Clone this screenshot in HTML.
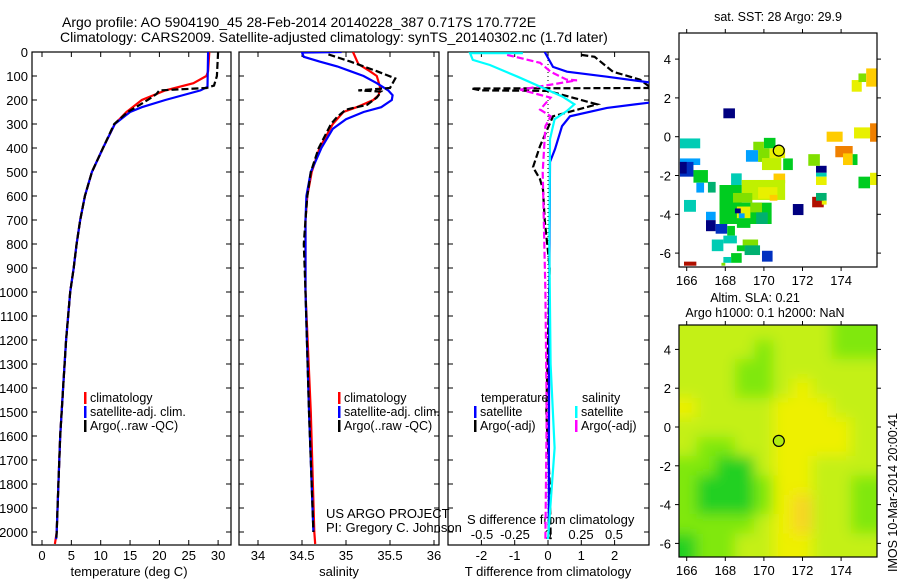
<!DOCTYPE html>
<html><head><meta charset="utf-8"><style>
html,body{margin:0;padding:0;background:#fff;}
svg{display:block;font-family:"Liberation Sans",Arial,sans-serif;}
text{fill:#000;}
</style></head><body>
<svg id="c" width="900" height="580" viewBox="0 0 900 580" xmlns="http://www.w3.org/2000/svg">
<defs>
<clipPath id="cp1"><rect x="32" y="52" width="199" height="493"/></clipPath>
<clipPath id="cp2"><rect x="239" y="52" width="200" height="493"/></clipPath>
<clipPath id="cp3"><rect x="448" y="52" width="201" height="493"/></clipPath>
<clipPath id="cpm1"><rect x="679" y="33" width="198" height="234"/></clipPath>
<clipPath id="cpm2"><rect x="679" y="325" width="198" height="232"/></clipPath>
<filter id="blur" x="-10%" y="-10%" width="120%" height="120%"><feGaussianBlur stdDeviation="7"/></filter>
</defs>
<text x="62" y="27" font-size="14">Argo profile: AO 5904190_45 28-Feb-2014 20140228_387 0.717S 170.772E</text>
<text x="60" y="42" font-size="14">Climatology: CARS2009. Satellite-adjusted climatology: synTS_20140302.nc (1.7d later)</text>
<g id="g"></g>
</svg>
<script>
// ---------- DATA ----------
const depthTicks=[0,100,200,300,400,500,600,700,800,900,1000,1100,1200,1300,1400,1500,1600,1700,1800,1900,2000];
const tTicks=[0,5,10,15,20,25,30];
const sTicks=[34,34.5,35,35.5,36];
const dtTicks=[-2,-1,0,1,2];
const dsTicks=[-0.5,-0.25,0,0.25,0.5];
const dsTickLabels=["-0.5","-0.25","0","0.25","0.5"];

const commonDepth=[400,500,600,700,800,900,1000,1200,1400,1600,1800,2000];
const commonT=[10.4,8.5,7.3,6.5,5.9,5.4,4.8,4.1,3.6,3.1,2.8,2.5];
const climTDepth=[0,80,100,130,160,200,250,300].concat(commonDepth,[2050]);
const climT=[28.5,28.3,28,25.8,21,17,14.4,12.4].concat(commonT,[2.2]);
const satTDepth=[0,145,160,200,230,250,300].concat(commonDepth,[2030]);
const satT=[28.3,28.2,27,21,17,15,12.4].concat(commonT,[2.4]);
const argoTDepth=[0,100,140,150,160,175,200,230,250,300].concat(commonDepth,[2030]);
const argoT=[30,29.8,29.3,28,20,19.5,18,16,14.6,12.3].concat(commonT,[2.45]);

const climSDepth=[0,50,80,100,150,180,200,230,250,300,400,500,600,700,1000,1500,2000,2050];
const climS=[35.08,35.14,35.27,35.35,35.39,35.37,35.31,35.12,34.97,34.85,34.7,34.61,34.56,34.54,34.54,34.6,34.64,34.65];
const satSDepth=[0,2,20,40,60,80,100,130,160,180,200,230,250,280,320,400,500,600,700,1000,1500,2000];
const satS=[34.95,34.5,34.52,34.7,34.9,35.05,35.2,35.35,35.48,35.53,35.52,35.4,35.2,35.0,34.85,34.72,34.6,34.55,34.54,34.54,34.58,34.63];
const argoSDepth=[10,40,80,110,150,160,165,190,220,240,270,300,400,500,600,700,800,1000,1500,1700,2000];
const argoS=[34.8,35.05,35.35,35.56,35.5,35.14,35.4,35.35,35.24,35.0,34.9,34.83,34.69,34.6,34.56,34.54,34.52,34.54,34.58,34.6,34.63];

const dTsatDepth=[0,62,82,103,128,210,233,268,309,405,458,700,1000,1500,2000];
const dTsat=[-0.1,0.15,0.57,1.77,3.1,3.1,1.77,0.66,0.42,0.21,0.06,0.05,0.04,0.03,0.02];
const dTargoDepth=[12,20,82,115,150,152,160,162,218,268,392,480,530,573,700,900,1200,1500,1800,2030];
const dTargo=[1.0,1.4,1.95,2.76,3.1,-2.3,-2.0,0.0,1.47,0.15,-0.24,-0.45,-0.24,-0.15,-0.1,0.05,0.0,-0.05,0.05,0.08];
const dSsatDepth=[5,5,33,54,103,144,186,218,247,280,363,800,1300,1650,2030];
const dSsat=[-0.19,-0.59,-0.57,-0.44,-0.23,-0.06,0.11,0.2,0.14,0.05,0.015,0.01,0.02,0.05,0.0];
const dSargoDepth=[12,45,82,115,118,157,190,240,268,309,500,1000,1500,2030];
const dSargo=[-0.31,-0.06,0.02,0.14,0.22,-0.21,0.02,-0.06,0.02,-0.02,-0.04,-0.02,-0.01,-0.02];

const lonTicks=[166,168,170,172,174];
const latTicks=[4,2,0,-2,-4,-6];
// SST cells: lon0, lon1, latTop, latBottom, colour class
const sstCells=[
[167.9,168.5,1.46,0.95,'navy'],[169.07,169.7,-0.69,-1.29,'lblue'],[172.7,173.25,-1.5,-1.86,'navy'],[172.7,173.25,-1.86,-2.06,'teal'],
[172.7,173.25,-2.06,-2.49,'yel'],[172.3,172.9,-0.9,-1.5,'lime'],[171.5,172.05,-3.47,-4.04,'navy'],[169.9,170.45,-5.88,-6.44,'blue'],
[165.86,166.5,-6.44,-6.65,'red'],[172.5,173.1,-3.1,-3.64,'red'],[172.7,173.25,-2.9,-3.3,'tgreen'],[173.0,173.25,-3.3,-3.5,'yel'],
[175.5,175.9,0.69,-0.26,'orange'],[174.67,175.5,0.48,-0.09,'yel'],[173.25,174.08,0.26,-0.26,'gold'],[173.7,174.6,-0.48,-1.06,'orange'],
[174.1,174.6,-0.86,-1.46,'gold'],[174.6,174.85,-0.9,-1.46,'green'],[174.55,175.07,2.92,2.32,'yel'],[174.9,175.3,3.26,2.82,'lime'],
[175.3,175.9,3.52,2.58,'gold'],[174.9,175.5,-2.06,-2.66,'green'],[175.5,175.9,-1.86,-2.49,'yel'],
[165.65,166.7,-0.09,-0.6,'teal'],[165.65,166.7,-1.12,-1.46,'lblue'],[165.65,166.35,-1.3,-2.06,'blue'],[165.65,166.0,-1.3,-1.9,'navy'],
[166.35,167.1,-1.72,-2.37,'green'],[166.5,166.9,-2.37,-2.88,'lblue'],[167.1,167.5,-2.33,-2.88,'tgreen'],[165.86,166.48,-3.26,-3.87,'teal'],
[168.3,168.85,-1.89,-2.49,'teal'],[170.0,170.6,-0.06,-0.6,'green'],[169.45,170.0,-0.26,-0.69,'lime'],[169.7,170.3,-0.6,-1.3,'lime'],
[170.3,171.1,-0.6,-1.1,'yel'],[169.9,170.9,-1.1,-1.72,'ygreen'],[171.0,171.5,-1.12,-1.72,'green'],[170.5,171.1,-1.9,-2.4,'gold'],
[168.85,171.1,-2.23,-3.26,'ygreen'],[169.7,170.7,-2.6,-3.2,'yel'],[170.3,170.7,-3.0,-3.3,'gold'],
[167.7,168.85,-2.49,-3.5,'green'],[168.4,169.4,-2.9,-3.4,'lime'],[167.7,170.4,-3.4,-4.5,'green'],[168.6,169.3,-3.6,-4.2,'yel'],
[169.3,169.9,-3.4,-3.9,'lime'],[168.5,168.8,-3.7,-3.95,'navy'],[168.7,169.0,-3.95,-4.2,'lblue'],[169.6,170.2,-3.9,-4.5,'tgreen'],
[167.0,167.5,-3.87,-4.3,'lblue'],[167.0,167.5,-4.3,-4.87,'navy'],[167.5,168.1,-4.5,-5.0,'blue'],[168.1,168.5,-4.6,-5.1,'green'],
[167.3,167.9,-5.3,-5.9,'teal'],[167.9,168.6,-5.1,-5.5,'teal'],[168.6,169.3,-4.3,-4.7,'green'],[168.9,169.7,-5.3,-5.9,'lime'],
[169.0,169.8,-5.6,-6.1,'tgreen'],[168.6,169.0,-5.6,-5.9,'green'],[168.3,168.85,-6.0,-6.5,'green'],[167.9,168.3,-6.2,-6.5,'teal'],[167.8,168.0,-6.5,-6.65,'lime']
];
const sstColors={navy:'#000080',blue:'#0030c0',lblue:'#00a0ff',teal:'#00ccb4',tgreen:'#00b070',green:'#00cc20',lime:'#80e000',ygreen:'#c0f000',yel:'#e8f000',gold:'#ffcc00',orange:'#f08000',red:'#b01000'};
// SLA grid (1-degree), rows lat 5..-6, cols lon 166..175, colour level
const slaLats=[5,4,3,2,1,0,-1,-2,-3,-4,-5,-6];
const slaLons=[166,167,168,169,170,171,172,173,174,175];
const slaLevels=[
[2,2,2,2,2,2,2,2,1,1],[2,2,2,2,1,2,2,2,1,1],[2,2,2,1,1,2,2,2,2,2],[2,2,2,1,1,2,3,2,2,2],
[3,2,2,2,2,3,3,3,2,2],[2,2,2,2,2,3,3,3,3,2],[2,1,1,2,2,3,3,3,3,2],[1,1,0,0,2,3,3,2,2,2],
[1,0,0,0,1,3,3,2,2,1],[1,0,0,0,1,3,4,2,2,1],[1,1,1,1,2,3,4,2,2,1],[0,1,1,2,2,3,3,2,2,2]];
const slaColors=['#22d020','#80e810','#c4f018','#eef000','#f8d428'];
const floatLon=170.772, floatLat=-0.717;

// ---------- DRAW ----------
const NS='http://www.w3.org/2000/svg';
const G=document.getElementById('g');
function el(tag,attrs,parent){const e=document.createElementNS(NS,tag);for(const k in attrs)e.setAttribute(k,attrs[k]);(parent||G).appendChild(e);return e;}
const yD=d=>52+d*0.24;
const xT=v=>42+v*5.87;
const xS=v=>258+(v-34)*88;
const xDT=v=>548+v*33.3;
const xDS=v=>548+v*132;
function line(xs,ds,fx,color,dash,clip,name){
  const pts=xs.map((v,i)=>fx(v).toFixed(1)+','+yD(ds[i]).toFixed(1)).join(' ');
  const p=el('polyline',{points:pts,fill:'none',stroke:color,'stroke-width':2.2,'clip-path':'url(#'+clip+')'});
  if(dash)p.setAttribute('stroke-dasharray','7,3');
  
  
}
function txt(x,y,s,size,anchor,name){const t=el('text',{x:x,y:y,'font-size':size,'text-anchor':anchor||'start'});t.textContent=s;
  
  
  return t;}
function panel(x0,x1,name){
  const r=el('rect',{x:x0,y:52,width:x1-x0,height:493,fill:'#fff',stroke:'#000','stroke-width':1.2});
  
  
  depthTicks.forEach(d=>{el('line',{x1:x0,x2:x0+5,y1:yD(d),y2:yD(d),stroke:'#000'});el('line',{x1:x1,x2:x1-5,y1:yD(d),y2:yD(d),stroke:'#000'});});
}
// Panels
panel(32,231,'temperature-panel');panel(239,439,'salinity-panel');panel(448,649,'difference-panel');
depthTicks.forEach(d=>txt(28,yD(d)+5,String(d),13,'end','depth-tick-label'));
tTicks.forEach(v=>{el('line',{x1:xT(v),x2:xT(v),y1:545,y2:540,stroke:'#000'});el('line',{x1:xT(v),x2:xT(v),y1:52,y2:57,stroke:'#000'});txt(xT(v),560,String(v),13,'middle','temperature-tick-label');});
sTicks.forEach(v=>{el('line',{x1:xS(v),x2:xS(v),y1:545,y2:540,stroke:'#000'});el('line',{x1:xS(v),x2:xS(v),y1:52,y2:57,stroke:'#000'});txt(xS(v),560,String(v),13,'middle','salinity-tick-label');});
dtTicks.forEach(v=>{el('line',{x1:xDT(v),x2:xDT(v),y1:545,y2:540,stroke:'#000'});el('line',{x1:xDT(v),x2:xDT(v),y1:52,y2:57,stroke:'#000'});txt(xDT(v),560,String(v),13,'middle','t-diff-tick-label');});
dsTicks.forEach((v,i)=>txt(xDS(v),539,dsTickLabels[i],13,'middle','s-diff-tick-label'));
txt(129,576,'temperature (deg C)',13,'middle','temperature-axis-title');
txt(339,576,'salinity',13,'middle','salinity-axis-title');
txt(548,576,'T difference from climatology',13,'middle','t-diff-axis-title');
txt(467,524,'S difference from climatology',13,'start','s-diff-axis-title');
el('line',{x1:548,x2:548,y1:52,y2:545,stroke:'#000','stroke-dasharray':'1,3'});
// series
line(climT,climTDepth,xT,'#f00',false,'cp1','temperature-climatology-line');
line(satT,satTDepth,xT,'#00f',false,'cp1','temperature-satellite-line');
line(argoT,argoTDepth,xT,'#000',true,'cp1','temperature-argo-line');
line(climS,climSDepth,xS,'#f00',false,'cp2','salinity-climatology-line');
line(satS,satSDepth,xS,'#00f',false,'cp2','salinity-satellite-line');
line(argoS,argoSDepth,xS,'#000',true,'cp2','salinity-argo-line');
line(dTargo,dTargoDepth,xDT,'#000',true,'cp3','t-diff-argo-line');
line(dSargo,dSargoDepth,xDS,'#f0f',true,'cp3','s-diff-argo-line');
line(dTsat,dTsatDepth,xDT,'#00f',false,'cp3','t-diff-satellite-line');
line(dSsat,dSsatDepth,xDS,'#0ff',false,'cp3','s-diff-satellite-line');
// legends
function leg(x,y,c,s,name){el('rect',{x:x,y:y-10,width:2.5,height:12,fill:c});txt(x+6,y,s,12.5,'start',name);}
leg(84,402,'#f00','climatology','legend-climatology');leg(84,416,'#00f','satellite-adj. clim.','legend-satellite');leg(84,430,'#000','Argo(..raw -QC)','legend-argo');
leg(338,402,'#f00','climatology','legend-climatology-2');leg(338,416,'#00f','satellite-adj. clim.','legend-satellite-2');leg(338,430,'#000','Argo(..raw -QC)','legend-argo-2');
txt(481,402,'temperature',12.5,'start','legend-temperature-header');txt(582,402,'salinity',12.5,'start','legend-salinity-header');
leg(474,416,'#00f','satellite','legend-t-satellite');leg(474,430,'#000','Argo(-adj)','legend-t-argo');
leg(575,416,'#0ff','satellite','legend-s-satellite');leg(575,430,'#f0f','Argo(-adj)','legend-s-argo');
txt(326,518,'US ARGO PROJECT',13,'start','project-credit');txt(326,532,'PI: Gregory C. Johnson',13,'start','pi-credit');

// Maps
const mx=lon=>686.7+(lon-166)*19.3;
function map(top,lat0y,clip,name){
  const my=lat=>lat0y-lat*19.4;
  return my;
}
const my1=lat=>136.7-lat*19.4;
const my2=lat=>427-lat*19.4;
// map1 background
const m1=el('g',{'clip-path':'url(#cpm1)'});


el('rect',{x:679,y:33,width:198,height:234,fill:'#fff'},m1);
sstCells.forEach(c=>{const r=el('rect',{x:mx(c[0]),y:my1(c[2]),width:mx(c[1])-mx(c[0]),height:my1(c[3])-my1(c[2]),fill:sstColors[c[4]]},m1);
  
  });
// map2 heatmap
const m2=el('g',{'clip-path':'url(#cpm2)'});


el('rect',{x:679,y:325,width:198,height:232,fill:slaColors[2]},m2);
const hb=el('g',{filter:'url(#blur)'},m2);
slaLats.forEach((la,i)=>slaLons.forEach((lo,j)=>{
  const x0=j===0?mx(lo-0.5)-20:mx(lo-0.5), x1=j===slaLons.length-1?mx(lo+0.5)+20:mx(lo+0.5);
  const y0=i===0?my2(la+0.5)-20:my2(la+0.5), y1=i===slaLats.length-1?my2(la-0.5)+20:my2(la-0.5);
  const r=el('rect',{x:x0,y:y0,width:x1-x0+0.5,height:y1-y0+0.5,fill:slaColors[slaLevels[i][j]]},hb);
  
  
}));
// frames, ticks
[[33,267,my1,'sst-map-frame'],[325,557,my2,'sla-map-frame']].forEach(([t,b,my,nm])=>{
  const f=el('rect',{x:679,y:t,width:198,height:b-t,fill:'none',stroke:'#000','stroke-width':1.2});
  
  
  latTicks.forEach(la=>{const y=my(la);el('line',{x1:675,x2:679,y1:y,y2:y,stroke:'#000'});el('line',{x1:877,x2:881,y1:y,y2:y,stroke:'#000'});txt(671,y+5,String(la),13,'end','latitude-tick-label');});
  lonTicks.forEach(lo=>{const x=mx(lo);el('line',{x1:x,x2:x,y1:t-4,y2:t,stroke:'#000'});el('line',{x1:x,x2:x,y1:b,y2:b+4,stroke:'#000'});txt(x,b+18,String(lo),13,'middle','longitude-tick-label');});
});
// float markers
const c1=el('circle',{cx:mx(floatLon),cy:my1(floatLat),r:5.5,fill:'#e8f000',stroke:'#000','stroke-width':1.2});


const c2=el('circle',{cx:mx(floatLon),cy:my2(floatLat),r:5.5,fill:'#b0ec10',stroke:'#000','stroke-width':1.2});


txt(778,21,'sat. SST: 28 Argo: 29.9',12.5,'middle','sst-map-title');
txt(755,302,'Altim. SLA: 0.21',12.5,'middle','sla-map-title');
txt(765,317,'Argo h1000: 0.1 h2000: NaN',12.5,'middle','sla-map-subtitle');
const rt=txt(0,0,'IMOS 10-Mar-2014 20:00:41',12.5,'start','imos-timestamp');
rt.setAttribute('transform','translate(897,572) rotate(-90)');
</script>
</body></html>
